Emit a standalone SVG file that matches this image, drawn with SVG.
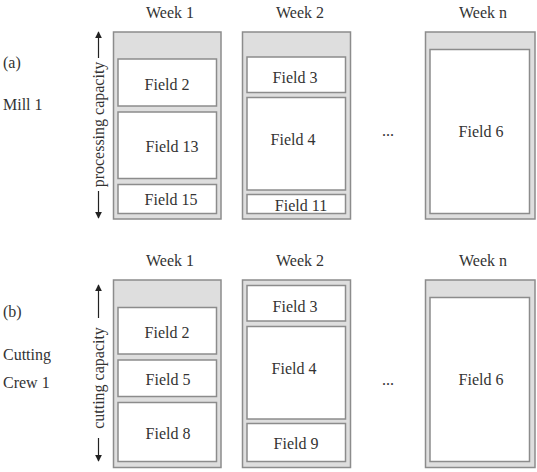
<svg xmlns="http://www.w3.org/2000/svg" width="537" height="472" viewBox="0 0 537 472">
<defs>
<style>
text{font-size:16px;fill:#333;}
.c{text-anchor:middle;}
.outer{fill:#dedede;stroke:#8c8c8c;stroke-width:1.5;}
.inner{fill:#fff;stroke:#8c8c8c;stroke-width:1.5;}
.ax{stroke:#222;stroke-width:1.2;fill:none;}
</style>
<marker id="ah" viewBox="0 0 10 10" refX="9" refY="5" markerWidth="7" markerHeight="8" orient="auto" markerUnits="userSpaceOnUse"><path d="M0,0 L10,5 L0,10 Z" fill="#222"/></marker>
</defs>
<rect width="537" height="472" fill="#fff"/>
<g font-family="Liberation Serif, Times New Roman, serif">
<!-- Panel (a) -->
<g id="labels-a">
<text x="3" y="68">(a)</text>
<text x="3" y="110">Mill 1</text>
<text class="c" x="170" y="18">Week 1</text>
<text class="c" x="300" y="18">Week 2</text>
<text class="c" x="483" y="18">Week n</text>
<text class="c" x="388" y="136">...</text>
</g>
<g id="connectors">
<line class="ax" x1="98.5" y1="58" x2="98.5" y2="32" marker-end="url(#ah)"/>
<line class="ax" x1="98.5" y1="191" x2="98.5" y2="218" marker-end="url(#ah)"/>
<line class="ax" x1="98.5" y1="318" x2="98.5" y2="285" marker-end="url(#ah)"/>
<line class="ax" x1="98.5" y1="438" x2="98.5" y2="461" marker-end="url(#ah)"/>
</g>
<text class="c" transform="translate(104,124.5) rotate(-90)">processing capacity</text>
<text class="c" transform="translate(104,378) rotate(-90)">cutting capacity</text>

<g id="a-week1">
<rect class="outer" x="113.5" y="32" width="107.5" height="187"/>
<g id="a-w1-field2"><rect class="inner" x="118" y="59" width="98.5" height="47"/><text class="c" x="167" y="90">Field 2</text></g>
<g id="a-w1-field13"><rect class="inner" x="118" y="112" width="98.5" height="66.5"/><text class="c" x="172" y="152">Field 13</text></g>
<g id="a-w1-field15"><rect class="inner" x="118" y="184.5" width="98.5" height="29"/><text class="c" x="171" y="205">Field 15</text></g>
</g>
<g id="a-week2">
<rect class="outer" x="242.5" y="32" width="108" height="187"/>
<g id="a-w2-field3"><rect class="inner" x="247" y="57" width="98.5" height="35.5"/><text class="c" x="295" y="82.5">Field 3</text></g>
<g id="a-w2-field4"><rect class="inner" x="247" y="97.5" width="98.5" height="92.5"/><text class="c" x="293" y="145">Field 4</text></g>
<g id="a-w2-field11"><rect class="inner" x="247" y="194.5" width="98.5" height="19"/><text class="c" x="301" y="211">Field 11</text></g>
</g>
<g id="a-weekn">
<rect class="outer" x="425.5" y="32" width="109.5" height="187"/>
<g id="a-wn-field6"><rect class="inner" x="430" y="49.5" width="99.5" height="164"/><text class="c" x="481" y="137">Field 6</text></g>
</g>

<!-- Panel (b) -->
<g id="labels-b">
<text x="3" y="317">(b)</text>
<text x="3" y="360">Cutting</text>
<text x="3" y="388">Crew 1</text>
<text class="c" x="170" y="266">Week 1</text>
<text class="c" x="300" y="266">Week 2</text>
<text class="c" x="483" y="266">Week n</text>
<text class="c" x="388" y="385">...</text>
</g>
<g id="b-week1">
<rect class="outer" x="113.5" y="280" width="107.5" height="187.5"/>
<g id="b-w1-field2"><rect class="inner" x="118" y="307.5" width="98.5" height="46.5"/><text class="c" x="167" y="338">Field 2</text></g>
<g id="b-w1-field5"><rect class="inner" x="118" y="360" width="98.5" height="36.5"/><text class="c" x="168" y="385">Field 5</text></g>
<g id="b-w1-field8"><rect class="inner" x="118" y="402.5" width="98.5" height="59"/><text class="c" x="168" y="439">Field 8</text></g>
</g>
<g id="b-week2">
<rect class="outer" x="242.5" y="280" width="108" height="187.5"/>
<g id="b-w2-field3"><rect class="inner" x="247" y="285.5" width="98.5" height="35.5"/><text class="c" x="295" y="312">Field 3</text></g>
<g id="b-w2-field4"><rect class="inner" x="247" y="326.5" width="98.5" height="92.5"/><text class="c" x="294" y="373.5">Field 4</text></g>
<g id="b-w2-field9"><rect class="inner" x="247" y="423.5" width="98.5" height="38"/><text class="c" x="296" y="448.5">Field 9</text></g>
</g>
<g id="b-weekn">
<rect class="outer" x="425.5" y="280" width="109.5" height="187.5"/>
<g id="b-wn-field6"><rect class="inner" x="430" y="297.5" width="99.5" height="164"/><text class="c" x="481" y="385">Field 6</text></g>
</g>
</g>
</svg>
